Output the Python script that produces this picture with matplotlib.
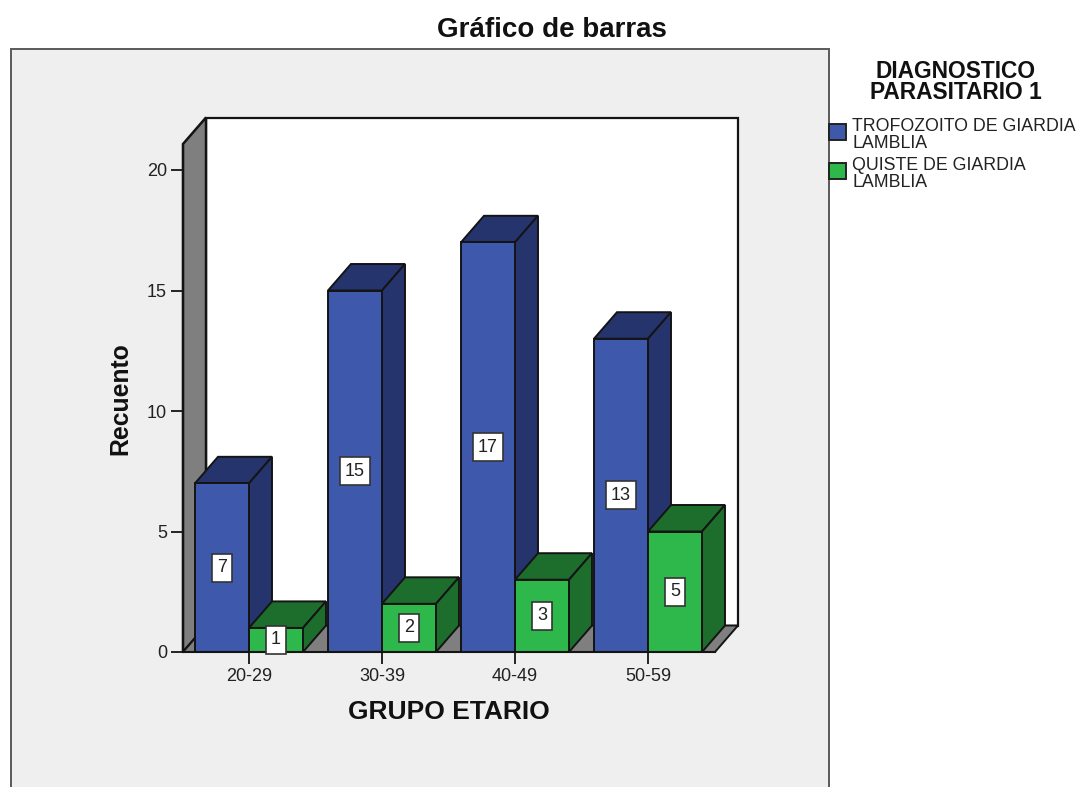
import matplotlib
matplotlib.use("Agg")
import matplotlib.pyplot as plt
from matplotlib.patches import Polygon, Rectangle

plt.rcParams['font.family'] = ['Liberation Sans', 'DejaVu Sans']

W, H = 1079, 787

groups = ['20-29', '30-39', '40-49', '50-59']
trofozoito = [7, 15, 17, 13]
quiste = [1, 2, 3, 5]
series_names = ['TROFOZOITO DE GIARDIA\nLAMBLIA', 'QUISTE DE GIARDIA\nLAMBLIA']
y_ticks = [0, 5, 10, 15, 20]

BLUE, BLUE_DARK = '#3E58AC', '#26346E'
GREEN, GREEN_DARK = '#2EB84B', '#1D6E2D'
WALL = '#7F7F7F'
EDGE = '#141414'


def fx(px):
    return px / W


def fy(py):
    return 1 - py / H


fig = plt.figure(figsize=(W / 100, H / 100), dpi=100, facecolor='white')

# Chart panel; its lower edge runs past the bottom of the canvas
fig.add_artist(Rectangle((fx(10.5), fy(830)), (829 - 10.5) / W, (830 - 48.5) / H,
                         transform=fig.transFigure, facecolor='#EFEFEF',
                         edgecolor='#5A5A5A', lw=1.4, zorder=-1))

ax = fig.add_axes([fx(183), fy(652), (715 - 183) / W, (652 - 144) / H])
ax.patch.set_visible(False)

PX_X = 133.0   # pixels per category
PX_Y = 24.1    # pixels per count
ax.set_xlim((183 - 249) / PX_X, (715 - 249) / PX_X)
ax.set_ylim(0, 508 / PX_Y)

dx = 23 / PX_X
dy = 26.5 / PX_Y
bar_w = 54 / PX_X
x0, x1 = ax.get_xlim()
y1 = ax.get_ylim()[1]


def poly(points, face, z, lw=1.4):
    ax.add_patch(Polygon(points, closed=True, facecolor=face, edgecolor=EDGE,
                         lw=lw, joinstyle='miter', clip_on=False, zorder=z))


# Back wall, left wall and floor of the 3D box
poly([(x0 + dx, dy), (x1 + dx, dy), (x1 + dx, y1 + dy), (x0 + dx, y1 + dy)], 'white', 1, lw=1.6)
poly([(x0, 0), (x0 + dx, dy), (x0 + dx, y1 + dy), (x0, y1)], WALL, 1.1, lw=1.8)
poly([(x0, 0), (x1, 0), (x1 + dx, dy), (x0 + dx, dy)], WALL, 1.2)


def bar3d(left, value, front, side, z):
    right = left + bar_w
    poly([(left, value), (right, value), (right + dx, value + dy), (left + dx, value + dy)], side, z)
    poly([(right, 0), (right + dx, dy), (right + dx, value + dy), (right, value)], side, z)
    poly([(left, 0), (right, 0), (right, value), (left, value)], front, z)


def value_label(xc, value):
    ax.text(xc, value / 2, str(value), ha='center', va='center', fontsize=13,
            color='#222222', zorder=20, clip_on=False,
            bbox=dict(boxstyle='square,pad=0.3', facecolor='white',
                      edgecolor='#333333', lw=1.2))


for i, (a, b) in enumerate(zip(trofozoito, quiste)):
    bar3d(i - bar_w, a, BLUE, BLUE_DARK, 3 + i)
    bar3d(i, b, GREEN, GREEN_DARK, 3.5 + i)
    value_label(i - bar_w / 2, a)
    value_label(i + bar_w / 2, b)

# Axes
for side in ('top', 'right'):
    ax.spines[side].set_visible(False)
for side in ('left', 'bottom'):
    ax.spines[side].set_linewidth(1.5)
    ax.spines[side].set_color(EDGE)
    ax.spines[side].set_zorder(15)
ax.set_xticks(range(len(groups)), groups)
ax.set_yticks(y_ticks)
ax.tick_params(axis='both', length=8.5, width=1.3, color=EDGE, labelsize=13,
               labelcolor='#222222', pad=3, zorder=16)
ax.set_axisbelow(False)

ax.set_xlabel('GRUPO ETARIO', fontsize=19, fontweight='bold', color='#111111', va='center')
ax.xaxis.set_label_coords(0.5, -(712 - 652) / 508)
ax.set_ylabel('Recuento', fontsize=17.8, fontweight='bold', color='#111111', va='center')
ax.yaxis.set_label_coords(-(183 - 120) / 532, (652 - 399) / 508)

fig.text(fx(552), fy(30), 'Gráfico de barras', fontsize=20, fontweight='bold',
         ha='center', va='center', color='#111111')

# Legend
fig.text(fx(956), fy(82), 'DIAGNOSTICO\nPARASITARIO 1', fontsize=16.4, fontweight='bold',
         ha='center', va='center', linespacing=0.92, color='#111111')
for top, text_y, name, colour in zip((124, 163), (135, 174), series_names, (BLUE, GREEN)):
    fig.add_artist(Rectangle((fx(829), fy(top + 16)), 17 / W, 16 / H, transform=fig.transFigure,
                             facecolor=colour, edgecolor='#222222', lw=1.4))
    fig.text(fx(852), fy(text_y), name, fontsize=12.8, ha='left', va='center',
             linespacing=1.0, color='#222222')

fig.savefig('out.png', dpi=100)
